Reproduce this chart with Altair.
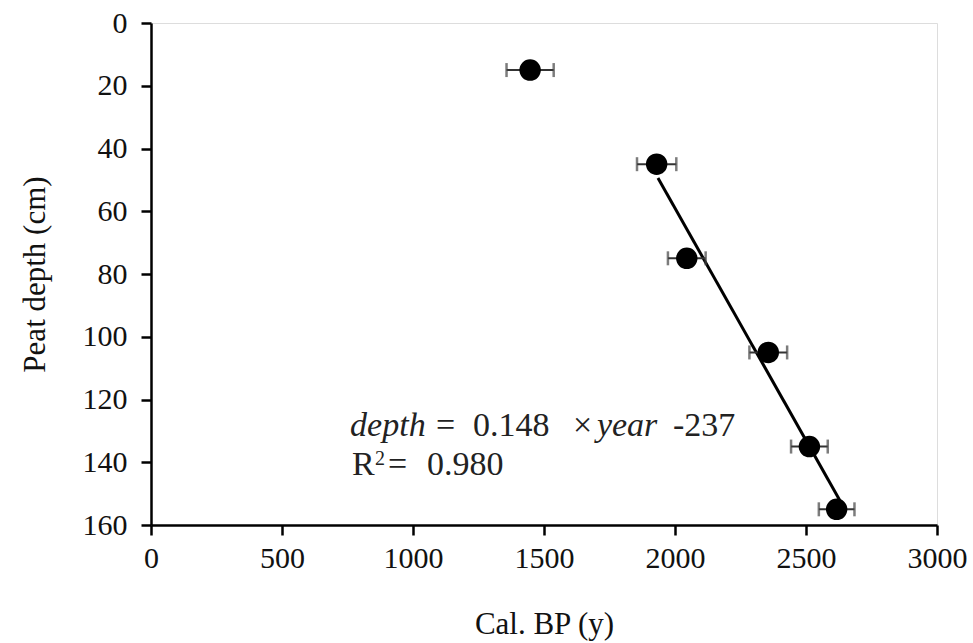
import altair as alt
import pandas as pd

# ---- data ----
years = [1447, 1930, 2045, 2356, 2513, 2617]
depths = [15, 45, 75, 105, 135, 155]
year_err = [90, 75, 72, 72, 70, 68]

fit_years = [1935, 2645]
fit_depths = [49.4, 154.5]

x_ticks = [0, 500, 1000, 1500, 2000, 2500, 3000]
y_ticks = [0, 20, 40, 60, 80, 100, 120, 140, 160]

# annotation pieces: text, year-position, depth-baseline, italic, size
ann_text = ["depth", "=", "0.148", "\u00d7", "year", "-237", "R", "2", "=", "0.980"]
ann_x = [760, 1088, 1229, 1611, 1702, 1992, 767, 855, 905, 1053]
ann_y = [131.6, 131.6, 131.6, 131.6, 131.6, 131.6, 144, 140.9, 144, 144]
ann_italic = [True, False, False, False, True, False, False, False, False, False]
ann_size = [34, 34, 34, 34, 34, 34, 34, 20, 34, 34]

FONT = "Liberation Serif"

pts = pd.DataFrame({"year": years, "depth": depths, "err": year_err})
pts["lo"] = pts["year"] - pts["err"]
pts["hi"] = pts["year"] + pts["err"]
caps = pd.DataFrame({"x": list(pts["lo"]) + list(pts["hi"]), "depth": depths + depths})
fit = pd.DataFrame({"year": fit_years, "depth": fit_depths})
ann = pd.DataFrame({"text": ann_text, "x": ann_x, "y": ann_y,
                    "italic": ann_italic, "size": ann_size})

xscale = alt.Scale(domain=[0, 3000], nice=False, zero=False)
yscale = alt.Scale(domain=[0, 160], reverse=True, nice=False)

xaxis = alt.Axis(values=x_ticks, format="d", title="Cal. BP (y)", grid=False,
                 labelFont=FONT, labelFontSize=30, labelColor="#111",
                 titleFont=FONT, titleFontSize=31, titleFontWeight="normal", titleColor="#111",
                 domainColor="#000", domainWidth=2.5, tickColor="#000", tickWidth=2.5,
                 tickSize=10, labelPadding=8, titleX=393, titleY=99,
                 titleBaseline="middle", titleAlign="center", labelFlush=False)
yaxis = alt.Axis(values=y_ticks, format="d", title="Peat depth (cm)", grid=False,
                 labelFont=FONT, labelFontSize=30, labelColor="#111",
                 titleFont=FONT, titleFontSize=31, titleFontWeight="normal", titleColor="#111",
                 domainColor="#000", domainWidth=2.5, tickColor="#000", tickWidth=2.5,
                 tickSize=10, labelPadding=14, titleX=-116, titleY=251, titleAngle=-90,
                 titleBaseline="middle", titleAlign="center", labelFlush=False)

base_x = alt.X("year:Q", scale=xscale, axis=xaxis)
base_y = alt.Y("depth:Q", scale=yscale, axis=yaxis)

bars = alt.Chart(pts).mark_rule(color="#333", strokeWidth=2).encode(
    x=alt.X("lo:Q", scale=xscale, axis=xaxis), x2="hi:Q", y=base_y)

cap_marks = alt.Chart(caps).mark_tick(orient="vertical", color="#444", size=14, thickness=2.5).encode(
    x=alt.X("x:Q", scale=xscale, axis=xaxis), y=base_y)

line = alt.Chart(fit).mark_line(color="#000", strokeWidth=3).encode(x=base_x, y=base_y)

points = alt.Chart(pts).mark_circle(color="#000", opacity=1, size=460).encode(x=base_x, y=base_y)

def ann_layer(italic, size):
    d = ann[(ann["italic"] == italic) & (ann["size"] == size)]
    return alt.Chart(d).mark_text(font=FONT, fontSize=size, fontStyle="italic" if italic else "normal",
                                  align="left", baseline="alphabetic", color="#222").encode(
        x=alt.X("x:Q", scale=xscale, axis=xaxis),
        y=alt.Y("y:Q", scale=yscale, axis=yaxis),
        text="text:N")

chart = alt.layer(
    line, bars, cap_marks, points,
    ann_layer(True, 34), ann_layer(False, 34), ann_layer(False, 20)
).properties(
    width=786, height=502,
    padding={"left": 151, "top": 23, "right": 36, "bottom": 118},
    autosize="none",
).configure_view(stroke=None).configure(background="white")

chart.save("out.html", embed_options={"renderer": "svg", "actions": False})
